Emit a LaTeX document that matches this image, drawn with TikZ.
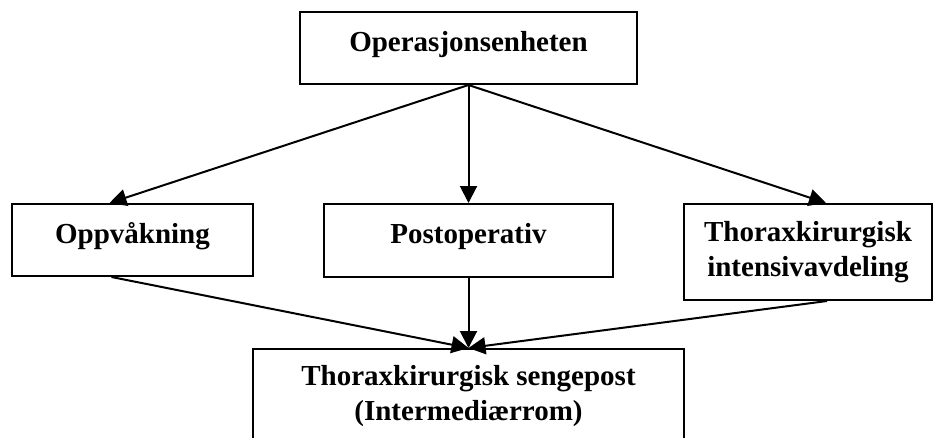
\documentclass[tikz,border=0pt]{standalone}
\usepackage{fontspec}
\setmainfont{Liberation Serif}
\usetikzlibrary{arrows.meta}
\begin{document}
\begin{tikzpicture}[x=1pt,y=-1pt,
  unit/.style={draw,line width=2pt,anchor=north west,inner sep=0pt,align=center,
    font=\fontsize{29}{35}\selectfont\bfseries},
  oneline/.style={unit,text height=39pt,text depth=33pt},
  flow/.style={line width=2pt,-{Triangle[length=17pt,width=17pt]}}]
\useasboundingbox (0,0) rectangle (933,437);
\clip (0,0) rectangle (933,437);
\node[oneline,minimum width=337pt] (op) at (299,11) {Operasjonsenheten};
\node[oneline,minimum width=241pt] (oppv) at (11,203) {Oppvåkning};
\node[oneline,minimum width=289pt,text depth=34pt] (post) at (323,203) {Postoperativ};
\node[unit,minimum width=248pt,minimum height=96pt] (inten) at (683,203) {Thoraxkirurgisk\\intensivavdeling};
\node[unit,minimum width=431pt,minimum height=94pt] (seng) at (252,348) {Thoraxkirurgisk sengepost\\(Intermediærrom)};
\draw[flow] (op.south) -- ([xshift=-23pt]oppv.north);
\draw[flow] (op.south) -- (post.north);
\draw[flow] (op.south) -- ([xshift=18pt]inten.north);
\draw[flow] ([xshift=-21pt]oppv.south) -- (seng.north);
\draw[flow] (post.south) -- (seng.north);
\draw[flow] ([xshift=19pt]inten.south) -- (seng.north);
\end{tikzpicture}
\end{document}
